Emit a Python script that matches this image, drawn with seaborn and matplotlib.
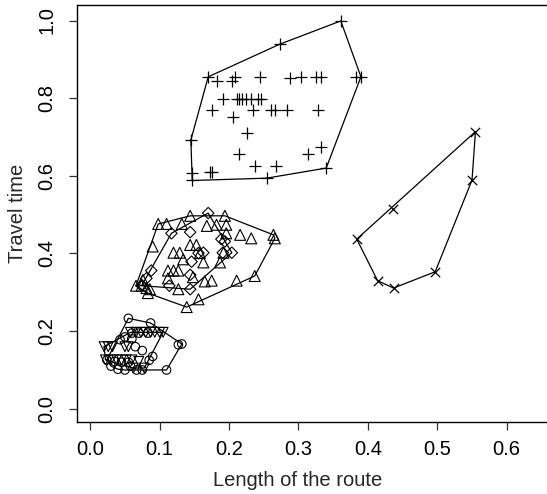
import numpy as np
import pandas as pd
import matplotlib
matplotlib.use("Agg")
import matplotlib.pyplot as plt
import seaborn as sns

# groups of routes: (length, travel time)
circle_x = [0.055, 0.087, 0.127, 0.132, 0.110, 0.067, 0.050, 0.040, 0.030, 0.024, 0.060, 0.070,
            0.083, 0.043, 0.050, 0.075, 0.065, 0.090, 0.085, 0.035, 0.045, 0.055, 0.058, 0.075, 0.060]
circle_y = [0.233, 0.221, 0.165, 0.167, 0.100, 0.100, 0.100, 0.102, 0.110, 0.126, 0.195, 0.195,
            0.195, 0.178, 0.185, 0.150, 0.160, 0.135, 0.125, 0.122, 0.120, 0.120, 0.110, 0.100, 0.180]

down_x = [0.020, 0.026, 0.032, 0.050, 0.055, 0.058, 0.066, 0.073, 0.080, 0.087, 0.093, 0.100,
          0.105, 0.022, 0.030, 0.038, 0.045, 0.052, 0.060, 0.070, 0.078, 0.062]
down_y = [0.160, 0.160, 0.160, 0.160, 0.160, 0.197, 0.197, 0.197, 0.197, 0.197, 0.197, 0.197,
          0.197, 0.126, 0.126, 0.126, 0.126, 0.126, 0.126, 0.122, 0.105, 0.105]

tri_x = [0.066, 0.074, 0.081, 0.086, 0.083, 0.090, 0.098, 0.110, 0.132, 0.144, 0.168, 0.182,
         0.194, 0.196, 0.196, 0.216, 0.232, 0.264, 0.266, 0.144, 0.153, 0.120, 0.129, 0.134,
         0.158, 0.163, 0.187, 0.192, 0.112, 0.120, 0.127, 0.148, 0.165, 0.175, 0.211, 0.237,
         0.112, 0.127, 0.156, 0.139, 0.076]
tri_y = [0.317, 0.317, 0.311, 0.308, 0.298, 0.418, 0.476, 0.476, 0.476, 0.497, 0.471, 0.474,
         0.497, 0.474, 0.452, 0.448, 0.439, 0.448, 0.439, 0.422, 0.422, 0.402, 0.402, 0.385,
         0.401, 0.377, 0.377, 0.402, 0.356, 0.356, 0.356, 0.339, 0.328, 0.330, 0.330, 0.342,
         0.336, 0.308, 0.282, 0.262, 0.332]

diam_x = [0.117, 0.144, 0.170, 0.189, 0.194, 0.204, 0.163, 0.156, 0.146, 0.088, 0.144, 0.144,
          0.114, 0.081, 0.191, 0.074]
diam_y = [0.452, 0.455, 0.504, 0.437, 0.431, 0.402, 0.402, 0.401, 0.379, 0.356, 0.345, 0.308,
          0.317, 0.336, 0.402, 0.317]

plus_x = [0.170, 0.273, 0.361, 0.390, 0.383, 0.340, 0.254, 0.147, 0.147, 0.145,
          0.182, 0.208, 0.204, 0.244, 0.288, 0.304, 0.326, 0.333,
          0.191, 0.211, 0.215, 0.219, 0.224, 0.232, 0.242, 0.246,
          0.175, 0.235, 0.261, 0.266, 0.283, 0.328,
          0.206, 0.226, 0.215, 0.333, 0.314, 0.237, 0.267, 0.172, 0.176]
plus_y = [0.855, 0.939, 0.999, 0.855, 0.855, 0.620, 0.594, 0.588, 0.607, 0.692,
          0.845, 0.855, 0.844, 0.855, 0.851, 0.855, 0.855, 0.855,
          0.798, 0.798, 0.798, 0.798, 0.798, 0.798, 0.798, 0.798,
          0.770, 0.770, 0.770, 0.770, 0.770, 0.770,
          0.752, 0.710, 0.656, 0.675, 0.656, 0.625, 0.625, 0.609, 0.609]

cross_x = [0.555, 0.550, 0.497, 0.437, 0.414, 0.384, 0.436]
cross_y = [0.714, 0.589, 0.353, 0.311, 0.330, 0.437, 0.514]

groups = [
    (circle_x, circle_y, "o"),
    (down_x, down_y, "v"),
    (tri_x, tri_y, "^"),
    (diam_x, diam_y, "D"),
    (plus_x, plus_y, "+"),
    (cross_x, cross_y, "x"),
]


def convex_hull(px, py):
    pts = sorted(set(zip(px, py)))

    def cross(o, a, b):
        return (a[0] - o[0]) * (b[1] - o[1]) - (a[1] - o[1]) * (b[0] - o[0])

    lower, upper = [], []
    for p in pts:
        while len(lower) >= 2 and cross(lower[-2], lower[-1], p) <= 0:
            lower.pop()
        lower.append(p)
    for p in reversed(pts):
        while len(upper) >= 2 and cross(upper[-2], upper[-1], p) <= 0:
            upper.pop()
        upper.append(p)
    hull = lower[:-1] + upper[:-1]
    hull.append(hull[0])
    return np.array(hull)


sns.set_theme(style="ticks")
plt.rcParams['font.family'] = ['Liberation Sans', 'DejaVu Sans']

fig = plt.figure(figsize=(5.47, 4.94), dpi=100)
ax = fig.add_axes([77 / 547, 72 / 494, 479 / 547, 417 / 494])

sizes = {"o": 38, "v": 50, "^": 62, "D": 34, "+": 85, "x": 45}
for gx, gy, m in groups:
    hull = convex_hull(gx, gy)
    ax.plot(hull[:, 0], hull[:, 1], color="black", lw=0.9, zorder=2)
    df = pd.DataFrame({"x": gx, "y": gy})
    if m in ("+", "x"):
        sns.scatterplot(data=df, x="x", y="y", marker=m, s=sizes[m], color="black",
                        linewidth=0.9, ax=ax, zorder=3)
    else:
        sns.scatterplot(data=df, x="x", y="y", marker=m, s=sizes[m], facecolor="none",
                        edgecolor="black", linewidth=0.8, ax=ax, zorder=3)

ax.set_xlim(-0.019, 0.671)
ax.set_ylim(-0.034, 1.04)
ax.set_xticks([0.0, 0.1, 0.2, 0.3, 0.4, 0.5, 0.6])
ax.set_yticks([0.0, 0.2, 0.4, 0.6, 0.8, 1.0])
ax.set_xticklabels(["0.0", "0.1", "0.2", "0.3", "0.4", "0.5", "0.6"])
ax.set_yticklabels(["0.0", "0.2", "0.4", "0.6", "0.8", "1.0"], rotation=90, va="center")
ax.tick_params(axis="both", direction="out", length=6, width=0.9, color="#333333",
               labelsize=14.5, labelcolor="black")
ax.tick_params(axis="x", pad=7)
ax.tick_params(axis="y", pad=9)
for sp in ax.spines.values():
    sp.set_linewidth(1.0)
    sp.set_color("black")
ax.set_xlabel("Length of the route", fontsize=14.5)
ax.set_ylabel("Travel time", fontsize=14.5)
ax.xaxis.set_label_coords((298 - 77) / 479, -49 / 417)
ax.yaxis.set_label_coords(-50 / 479, 0.5)

fig.savefig("out.png", dpi=100)
